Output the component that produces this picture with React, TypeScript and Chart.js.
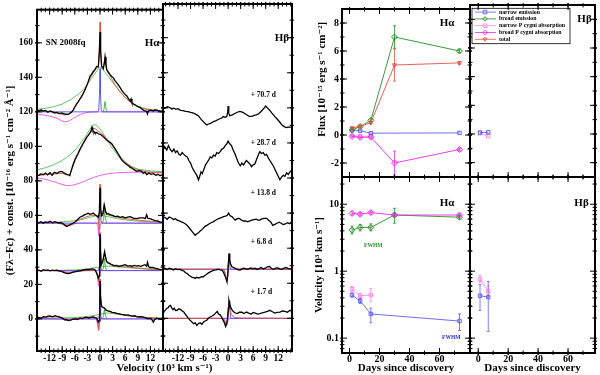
import React, { useEffect, useRef } from 'react';
import { Chart, registerables } from 'chart.js';
Chart.register(...registerables);

type P = [number, number];
const FONT = "'Liberation Serif', 'DejaVu Serif', serif";
Chart.defaults.font.family = FONT;
Chart.defaults.color = '#000';

// ---------------- tick labels ----------------
const specVelTicks = [-12, -9, -6, -3, 0, 3, 6, 9, 12];
const specFluxTicks = [0, 20, 40, 60, 80, 100, 120, 140, 160];
const dayTicks = [0, 20, 40, 60];
const fluxTicks = [-2, 0, 2, 4, 6, 8];
const velLogTicks = [0.1, 1, 10];
const epochLabels = ['+ 70.7 d', '+ 28.7 d', '+ 13.8 d', '+ 6.8 d', '+ 1.7 d'];

// ---------------- H-alpha spectra (velocity 10^3 km/s, flux + const) ----------------
const haObs70: P[] = [[-15.1,121],[-14.5,120.5],[-14,121.2],[-13.5,120.3],[-13,120.8],[-12.4,119.8],[-11.9,120.5],[-11.3,120],[-10.8,119.3],[-10.3,119.7],[-9.7,119],[-9.2,119.4],[-8.8,119.1],[-8.2,118.6],[-7.6,118.5],[-7.2,119.1],[-6.8,119.8],[-6.4,121],[-6,122.8],[-5.6,124.5],[-5.2,125.8],[-4.8,127.3],[-4.4,128.8],[-4,130.5],[-3.6,132.5],[-3.2,134.9],[-2.8,137.5],[-2.4,140.6],[-2,141.8],[-1.6,143.4],[-1.2,144.5],[-0.8,146.3],[-0.4,146],[-0.15,155],[0,166.3],[0.15,155],[0.4,146.3],[0.8,145],[1,148],[1.2,152],[1.4,148],[1.6,144.4],[2,143],[2.4,141.6],[2.8,140.5],[3.2,139.7],[3.6,138],[4,136.8],[4.4,135.5],[4.8,134],[5.2,132.5],[5.6,131.1],[6,130],[6.4,129.2],[6.8,127.5],[7.2,126.3],[7.4,127.5],[7.6,125.5],[8,124.5],[8.4,124],[8.7,123.5],[9.1,123],[9.5,122.6],[9.9,121.8],[10.3,121],[10.7,120.5],[11.1,120.3],[11.3,118.8],[11.5,120.5],[11.9,121],[12.3,120.8],[12.7,120.5],[13.1,121.2],[13.5,121],[14.1,120.6],[14.7,120.3],[15.1,120.5]];
const haTot70: P[] = [[-15,121],[-13,120.6],[-11,119.8],[-9.5,118.8],[-8.5,118.2],[-7.5,118.6],[-6.5,120.5],[-5.5,124.5],[-4.5,128.8],[-3.5,133.5],[-2.5,139],[-1.5,143],[-0.8,145.5],[-0.35,147],[-0.12,158],[0,172],[0.12,158],[0.35,146.5],[0.8,146],[1,148],[1.2,151],[1.4,147],[1.8,143],[2.5,140.5],[3.5,136],[4.5,132.5],[5.5,129.5],[6.5,127],[7.5,125],[8.5,123.5],[10,122],[12,121],[15,120.5]];
const haBroad70: P[] = [[-15,121.5],[-13,122],[-11,123],[-9,124.5],[-7,127],[-5,130.5],[-4,132.8],[-3,136],[-2,139.5],[-1,143],[-0.3,145.5],[0.3,145.5],[1,143.5],[2,140.5],[3,137],[4,134],[5,131],[6,128.5],[7,126.3],[8,124.5],[9,123.2],[11,121.8],[13,121],[15,120.6]];
const haNarrow70: P[] = [[-15,120],[-0.6,120],[-0.3,121],[-0.12,130],[0,145],[0.12,130],[0.3,121],[0.6,120],[15,120]];
const haNarrowB70: P[] = [[0.7,120],[0.95,121.5],[1.2,126],[1.45,121.5],[1.7,120]];
const haAbs70: P[] = [[-15,118.7],[-13.5,118.2],[-12,117.5],[-10.5,116.5],[-9.5,115.3],[-8.5,114.2],[-7.5,114.6],[-6.5,116],[-5.5,117.5],[-4.5,118.7],[-3.5,119.5],[-2,119.9],[0,120],[15,120]];

const haObs28: P[] = [[-15.1,82.7],[-14.6,83.2],[-14.1,84],[-13.5,83.6],[-13,84.5],[-12.5,83.5],[-11.9,84.8],[-11.4,83.2],[-10.9,85],[-10.3,84.3],[-9.7,85.2],[-9.1,85.5],[-8.5,84.5],[-7.9,83.6],[-7.5,83.5],[-7.2,83],[-6.8,86.4],[-6.4,89.5],[-6,92.1],[-5.6,94.3],[-5.2,96],[-4.8,98.2],[-4.4,100.1],[-4,101.8],[-3.6,103.5],[-3.2,105.2],[-2.8,106.4],[-2.4,107.8],[-2.2,108.3],[-1.9,111],[-1.7,109],[-1.4,108.5],[-1.2,107.7],[-0.8,108],[-0.4,107.3],[0,107],[0.4,106.4],[0.8,105.5],[1.2,104.6],[1.6,103.5],[2,103],[2.4,102.3],[2.8,101.6],[3.2,100],[3.6,98.5],[4,96.9],[4.4,95.3],[4.8,93.6],[5.2,92.1],[5.6,91],[6,90.2],[6.4,89.3],[6.8,88.8],[7.2,87.8],[7.6,87.4],[8.1,86.5],[8.7,85.5],[9.3,86],[9.9,85.5],[10.3,84.3],[10.7,85],[11.1,83.6],[11.6,84.5],[12.2,83.8],[12.7,84.2],[13.3,83.2],[13.8,83.8],[14.3,83],[14.7,83.5],[15.1,83.6]];
const haTot28: P[] = [[-15,83],[-13,83.6],[-11,84],[-9,84.3],[-8,83.8],[-7.3,83.5],[-6.8,86],[-6,91.5],[-5,96.5],[-4,101.3],[-3,105.5],[-2,109.3],[-1.5,110.5],[-1,110],[0,108],[1,106],[2,103.3],[3,100.3],[4,97],[5,93.5],[6,91],[7,89],[8,87.5],[9,86.3],[11,85.3],[13,84.8],[15,84.6]];
const haBroad28: P[] = [[-15,86.4],[-13,87.6],[-11,89.3],[-9,91.8],[-7,95.3],[-5.5,99],[-4.4,102.6],[-3.5,105.5],[-2.8,108.3],[-2,111.5],[-1.5,112.5],[-1,112.5],[-0.3,111],[0.5,108.5],[1.6,104],[2.5,100.5],[4,95.5],[5,92.5],[6.4,89.8],[8,87.8],[9.5,86.6],[12,85.8],[15,85.3]];
const haAbs28: P[] = [[-15,81.7],[-13,80.9],[-11,79.5],[-9.5,78.3],[-8,77.3],[-7,77.3],[-6,77.8],[-4.5,79],[-3,80.6],[-1.5,82],[0,83.2],[2,84.2],[4,84.7],[7,85],[15,85]];

const haObs13: P[] = [[-15.1,56],[-14.6,55.6],[-14.1,56.3],[-13.5,55.5],[-13,56.2],[-12.4,55.8],[-11.9,56.6],[-11.3,55.7],[-10.8,56.4],[-10.3,56],[-9.7,55.6],[-9.2,55.8],[-8.8,55.1],[-8.3,54.2],[-7.9,53.6],[-7.5,54],[-7.2,54.5],[-6.6,55.2],[-6,56],[-5.4,57.5],[-4.8,58.9],[-4.2,59.6],[-3.6,60.4],[-3.2,60.8],[-2.8,61.2],[-2.4,60.6],[-2,60.8],[-1.6,61.3],[-1.2,60.4],[-0.8,59.8],[-0.4,58.9],[-0.15,62],[0,76],[0.15,64],[0.4,59.8],[0.7,61],[1,66.1],[1.3,62.5],[1.6,60.8],[2,61],[2.4,60.4],[3,60],[3.6,59.3],[4.2,59.5],[4.8,58.9],[5.4,59.2],[6,58.6],[6.6,59],[7.2,59.3],[7.9,58.4],[8.7,58.1],[9.5,58.6],[10.3,58.6],[10.8,58.2],[11.1,60.4],[11.4,58.3],[11.9,58.1],[12.5,57.6],[13.1,57],[13.7,56.8],[14.2,56.3],[14.7,56],[15.1,55.8]];
const haTot13: P[] = [[-15,56],[-12,56],[-10,55.8],[-9,55.2],[-8.3,54.5],[-7.5,54.6],[-6.5,55.5],[-5,57.3],[-3.5,59],[-2,60],[-1,60],[-0.5,58.5],[-0.2,52],[-0.05,65],[0,78],[0.08,66],[0.25,61],[0.6,60.5],[0.85,63],[1.05,66.5],[1.3,62],[1.8,60.3],[3,59.5],[5,58.5],[7,57.8],[10,57],[12.5,56.5],[15,56]];
const haBroad13: P[] = [[-15,55.7],[-11,56],[-8,56.4],[-6,56.9],[-4,57.8],[-2.5,58.8],[-1.2,59.6],[0,60],[1.2,59.6],[2.5,58.9],[4,58.1],[6,57.4],[9,56.7],[12,56.2],[15,55.9]];
const haNarrow13: P[] = [[-15,55.5],[-0.5,55.5],[-0.25,57],[-0.1,64],[0,74],[0.1,64],[0.25,57],[0.5,55.5],[15,55.5]];
const haNarrowB13: P[] = [[0.6,55.5],[0.85,58],[1.05,63],[1.3,58],[1.6,55.5]];
const haAbs13: P[] = [[-15,55.5],[-10,55.5],[-9,54.8],[-8,54],[-7,54.3],[-6,55.2],[-5,55.5],[-0.8,55.5],[-0.45,53],[-0.25,48],[-0.1,52],[0.1,55.5],[15,55.5]];

const haObs6: P[] = [[-15.1,27.9],[-14.5,28.2],[-14,27.6],[-13.5,28.5],[-12.9,28.1],[-12.4,28.4],[-11.9,27.9],[-11.3,28.3],[-10.8,28],[-10.3,28.3],[-9.7,27.8],[-9.2,27.5],[-8.8,27.1],[-8.2,26.5],[-7.6,26.2],[-7,26.6],[-6.4,27.1],[-5.8,27.4],[-5.2,27.7],[-4.8,27.9],[-4.2,28.2],[-3.6,28.5],[-3.2,28.7],[-2.6,28.6],[-2,29],[-1.6,28.8],[-1.2,28.5],[-0.8,26.6],[-0.4,23.7],[-0.2,25],[-0.05,40],[0,49],[0.1,40],[0.3,31.4],[0.6,33],[0.8,35.1],[1.1,39],[1.4,35],[1.6,33.2],[2,32.5],[2.4,32],[2.8,31.4],[3.4,30.8],[4,31],[4.4,30.4],[5,30.8],[5.6,31.2],[6,31.4],[6.6,30.6],[7.2,30.9],[7.6,30.4],[8.2,31],[8.7,30.6],[9.1,30.9],[9.7,30.5],[10.3,31],[10.7,31.4],[11.1,30.5],[11.3,32.8],[11.6,30.2],[11.9,29.8],[12.5,29.9],[13.1,29.4],[13.6,29.1],[14.2,28.7],[14.7,28.5],[15.1,28.4]];
const haTot6: P[] = [[-15,28],[-11,28],[-9.5,27.6],[-8,27.1],[-7,27],[-6,27.3],[-4.5,27.8],[-2.5,28.2],[-1.2,28],[-0.7,26],[-0.35,21.5],[-0.15,26],[-0.05,42],[0,50],[0.08,42],[0.25,32],[0.5,32.5],[0.8,35],[1.05,38],[1.3,35],[1.7,32.5],[2.5,31.5],[4,30.8],[6,30.2],[8,29.7],[11,29.1],[15,28.4]];
const haBroad6: P[] = [[-15,28],[-10,28.1],[-6,28.4],[-3,29],[-1,29.8],[0.5,30.3],[2,30.6],[4,30.3],[6,29.8],[9,29.2],[12,28.7],[15,28.4]];
const haNarrow6: P[] = [[-15,28],[-0.4,28],[-0.2,30],[-0.08,38],[0,47],[0.08,38],[0.2,30],[0.4,28],[15,28]];
const haNarrowB6: P[] = [[0.6,28],[0.85,30],[1.05,35],[1.3,30],[1.6,28]];
const haAbs6: P[] = [[-15,28],[-10,28],[-9,27.5],[-8,27],[-7,27.1],[-6,27.6],[-5,28],[-0.9,28],[-0.6,25],[-0.35,19],[-0.15,23],[0.05,28],[15,28]];

const haObs1: P[] = [[-15.1,0.5],[-14.6,0.9],[-14,0.4],[-13.5,1.3],[-12.9,1],[-12.4,1.6],[-11.9,1.7],[-11.3,1.2],[-10.7,1.9],[-10.1,1.4],[-9.5,1],[-8.9,0.3],[-8.3,-0.6],[-7.9,-0.4],[-7.6,-1],[-7,-0.7],[-6.4,-0.2],[-5.8,0],[-5.3,-0.3],[-4.8,0.6],[-4.2,0.2],[-3.7,0.8],[-3.2,1],[-2.6,0.5],[-2.1,1],[-1.6,1.1],[-1.2,0.8],[-0.8,0.6],[-0.4,-1.9],[-0.2,-1],[-0.05,12],[0,22],[0.1,14],[0.3,8.5],[0.5,7],[0.8,6.6],[1.1,6.2],[1.4,5.1],[1.9,4.6],[2.4,4.3],[2.9,3.8],[3.5,3.6],[4,3.2],[4.6,2.9],[5.1,2.6],[5.6,2.5],[6.2,2.2],[6.7,2.3],[7.2,1.9],[7.8,1.6],[8.3,1.8],[8.7,1.3],[9.3,1.1],[9.8,1.3],[10.3,1],[10.9,0.6],[11.5,0],[12,0.4],[12.4,-0.6],[12.7,-1.9],[13,-0.5],[13.5,0.4],[13.9,0.2],[14.4,-0.3],[14.7,-0.2],[15.1,0.2]];
const haTot1: P[] = [[-15,0.5],[-12,1.2],[-10,1.2],[-9,0.6],[-8,-0.3],[-7,-0.5],[-6,0],[-4,0.5],[-2,0.8],[-1,0.6],[-0.6,-1],[-0.3,-6],[-0.12,-2],[-0.04,14],[0,23],[0.07,15],[0.25,8.5],[0.5,6.5],[0.8,6.3],[1.05,6.6],[1.3,5.6],[1.8,4.8],[2.5,4],[4,3],[6,2.1],[8,1.5],[10,1],[12,0.6],[15,0.3]];
const haBroad1: P[] = [[-15,0.3],[-10,0.5],[-6,0.8],[-3,1.3],[-1,2.2],[0.5,3],[1.5,3.4],[2.5,3.3],[4,2.8],[6,2.1],[8,1.5],[10,1],[12,0.7],[15,0.4]];
const haNarrow1: P[] = [[-15,0],[-0.4,0],[-0.2,2],[-0.08,10],[0,20],[0.08,10],[0.2,2],[0.4,0],[15,0]];
const haNarrowB1: P[] = [[0.6,0],[0.85,2],[1.05,5.5],[1.3,2],[1.6,0]];
const haAbs1: P[] = [[-15,0],[-9,-0.2],[-8,-0.7],[-7,-0.6],[-6,0],[-0.9,0],[-0.6,-3],[-0.35,-7],[-0.15,-3],[0.05,0],[15,0]];

// ---------------- H-beta spectra ----------------
const hbObs70: P[] = [[-15.5,119.5],[-15,120],[-14.5,120.6],[-14,120.2],[-13.5,119.4],[-13,119.8],[-12.5,119.2],[-12,119.5],[-11.4,118.6],[-10.8,118.4],[-10.2,118],[-9.6,117.8],[-9,117.4],[-8.3,117],[-7.7,116.3],[-7.1,115.4],[-6.5,113.6],[-5.9,112],[-5.4,110.8],[-5.1,110.3],[-4.7,110.8],[-4.2,111.2],[-3.5,112.2],[-3,112.6],[-2.5,113.2],[-2,113.8],[-1.5,114.2],[-1.2,115],[-0.7,114.6],[-0.3,115.2],[-0.1,117.5],[0,121],[0.15,117],[0.4,115.5],[1,116],[1.6,116.8],[2.2,117.5],[2.8,118],[3.4,117.6],[4,116.8],[4.6,115.8],[5.2,115],[5.8,115.3],[6.4,115.8],[6.8,116],[7.4,116.8],[8,118.2],[8.6,119.8],[9,121],[9.4,120],[9.9,118.8],[10.5,117],[11.2,115],[11.8,113.5],[12.4,111.8],[12.9,110.2],[13.4,109.3],[14,108.8],[14.6,109],[15.3,109]];
const hbObs28: P[] = [[-15.5,96.5],[-15.1,97.5],[-14.7,96],[-14.3,98.5],[-13.8,96],[-13.4,95],[-13,96.5],[-12.6,94.5],[-12.2,95.5],[-11.8,93.5],[-11.4,93],[-11,94.5],[-10.6,93.5],[-10.2,92.5],[-9.8,92],[-9.4,90],[-9,88.5],[-8.6,86],[-8.3,84.6],[-7.9,83],[-7.5,81.5],[-7.1,79],[-6.8,81],[-6.5,83.5],[-6.2,82.5],[-5.8,85],[-5.4,87.5],[-5,89],[-4.6,90.5],[-4.3,92],[-3.9,91.5],[-3.5,93],[-3.1,92.5],[-2.7,94.5],[-2.3,94],[-1.9,95],[-1.5,96.5],[-1.1,97],[-0.7,98.5],[-0.3,99.5],[0,101],[0.4,99.5],[0.8,98.5],[1.2,96],[1.6,94],[2,91.5],[2.4,89],[2.9,87],[3.3,88.5],[3.7,87.5],[4.1,89],[4.4,90],[4.8,89],[5.2,88],[5.6,86.5],[6,87.5],[6.4,88],[6.8,90.5],[7.2,93],[7.6,95],[8,94],[8.4,94.5],[8.8,93],[9.2,93.5],[9.6,91.5],[10,90],[10.4,88.5],[10.8,87],[11.2,85],[11.6,83],[12,81],[12.4,79],[12.8,80.5],[13.2,81.5],[13.6,81],[14,83],[14.4,82],[14.8,83.5],[15.3,84.6]];
const hbObs13: P[] = [[-15.6,58],[-15.1,57.5],[-14.6,56.5],[-14.1,57.8],[-13.6,57.2],[-13.1,56.4],[-12.6,56.8],[-12.2,56],[-11.7,55.6],[-11.2,55],[-10.7,54.5],[-10.2,53.8],[-9.8,53],[-9.3,51.5],[-8.8,50],[-8.3,48.5],[-7.9,47.4],[-7.5,48.2],[-7.1,48.8],[-6.6,50],[-6.1,51],[-5.6,52.3],[-5.1,53],[-4.6,53.8],[-4.1,54.5],[-3.6,55],[-3.1,55.8],[-2.6,56.5],[-2.1,57],[-1.6,57.4],[-1.1,58],[-0.6,58.3],[-0.2,58.8],[0.1,60],[0.5,58.5],[0.9,58],[1.3,57],[1.7,56],[2.2,56.8],[2.7,57],[3.2,56],[3.7,55.5],[4.2,55.5],[4.7,55],[5.2,55.6],[5.7,56],[6.2,56.3],[6.7,56.6],[7.2,56],[7.6,56],[8.1,56.7],[8.6,57],[9.2,57],[9.7,56],[10.2,55],[10.7,53],[11.2,53.6],[11.7,54.2],[12.2,54.8],[12.7,54.2],[13.2,53.5],[13.7,53.8],[14.2,54.5],[14.7,54],[15.3,55]];
const hbObs6: P[] = [[-15.6,28],[-15.1,28.4],[-14.6,27.8],[-14.1,28.6],[-13.6,28.2],[-13.1,27.6],[-12.6,28.3],[-12.1,27.8],[-11.6,28.1],[-11.1,27.4],[-10.6,27],[-10.2,26],[-9.8,25.5],[-9.4,24.6],[-9,24],[-8.6,23.4],[-8.2,23.2],[-7.9,22.8],[-7.5,23.4],[-7.1,23],[-6.7,23.4],[-6.3,23.8],[-6,23.6],[-5.6,24.4],[-5.2,25],[-4.8,25.8],[-4.3,26.5],[-3.9,26.9],[-3.4,27.5],[-2.9,27.7],[-2.4,28],[-1.9,27.6],[-1.5,27.5],[-1.1,26.2],[-0.8,24.5],[-0.5,22.5],[-0.3,21],[-0.1,24],[0.1,33],[0.25,37],[0.4,33],[0.6,31],[0.9,29.4],[1.3,29],[1.8,28.4],[2.4,27.6],[2.9,27.5],[3.4,28.3],[3.9,28.6],[4.4,27.9],[4.9,28.2],[5.4,28.8],[5.9,28.3],[6.4,28.6],[6.9,27.9],[7.4,28.4],[7.9,29],[8.4,28.2],[8.9,28.6],[9.4,29.4],[9.9,29.6],[10.4,28.4],[10.9,28],[11.4,28.6],[11.9,28.7],[12.4,28.2],[12.9,28],[13.4,28.6],[13.9,29],[14.4,28.4],[14.9,28.2],[15.3,28]];
const hbTot6: P[] = [[-15.6,28],[-2,28],[-1,27.5],[-0.6,25],[-0.3,21],[-0.1,24],[0.1,31],[0.25,35.5],[0.45,32],[0.8,29.5],[1.5,28.5],[3,28.1],[15.3,28]];
const hbNarrow6: P[] = [[-15.6,28],[-0.1,28],[0.05,31],[0.2,37],[0.35,31],[0.55,28],[15.3,28]];
const hbAbs6: P[] = [[-15.6,28],[-1,28],[-0.6,25],[-0.3,21],[-0.1,25],[0.1,28],[15.3,28]];
const hbObs1: P[] = [[-15.6,2.5],[-15.3,4],[-15,4.7],[-14.7,5.8],[-14.4,6],[-14.1,7],[-13.8,7.4],[-13.5,6],[-13.2,5],[-12.9,5.8],[-12.6,4.5],[-12.2,4.6],[-11.8,5.5],[-11.4,5],[-11,4.2],[-10.6,3.6],[-10.2,2.2],[-9.8,1],[-9.5,0],[-9.1,-1.1],[-8.7,-2],[-8.3,-3],[-7.9,-2.5],[-7.5,-4],[-7.1,-3],[-6.7,-2.5],[-6.3,-3.4],[-5.9,-2.1],[-5.5,-1.5],[-5.1,-1],[-4.7,0.2],[-4.3,0.8],[-3.9,1.2],[-3.4,2],[-3,3],[-2.6,4],[-2.3,2.5],[-1.9,2],[-1.5,0.5],[-1.2,-1],[-0.9,-2.5],[-0.6,-4.6],[-0.35,-3],[-0.15,0],[0.05,6],[0.2,10.3],[0.4,8],[0.6,6.5],[0.9,5],[1.2,4],[1.6,3.2],[2.2,2.7],[2.7,3.5],[3.3,3.5],[3.8,2.8],[4.4,3.6],[4.9,3],[5.5,2.5],[6,3.4],[6.5,3],[7.1,2.4],[7.6,2.7],[8.2,3.2],[8.8,3.5],[9.4,4],[10,4.6],[10.6,3.8],[11.2,3],[11.8,3.4],[12.4,3.6],[13,4.2],[13.6,4],[14.2,3.5],[14.8,4.6],[15.3,4]];
const hbTot1: P[] = [[-15.6,0],[-1.2,0],[-0.7,-2],[-0.35,-4],[-0.1,-1],[0.1,6],[0.25,9.5],[0.45,5],[0.8,2],[1.5,0.6],[3,0.2],[15.3,0]];
const hbNarrow1: P[] = [[-15.6,0],[-0.05,0],[0.1,5],[0.25,10],[0.4,5],[0.6,0],[15.3,0]];
const hbAbs1: P[] = [[-15.6,0],[-1,0],[-0.6,-2],[-0.35,-4],[-0.1,-2],[0.1,0],[15.3,0]];

// ---------------- line measurements ----------------
const seriesNames = ['narrow emission', 'broad emission', 'narrow P cygni absorption', 'broad P cygni absorption', 'total'];
const seriesColors = ['rgb(95,95,235)', 'rgb(40,140,40)', 'rgb(255,135,230)', 'rgb(235,40,235)', 'rgb(225,80,70)'];
const seriesMarkers = ['rect', 'rectRot', 'rect', 'rectRot', 'triangle'];

const daysHa = [1.7, 7.1, 14.2, 30.0, 73.3];
const daysHb = [1.2, 6.7];

const narrowEmFlux = [0.35, 0.3, 0.13, null, 0.15];
const broadEmFlux = [0.35, 0.6, 1.05, 7.0, 6.0];
const broadEmFluxLo = [0.3, 0.55, 0.95, 6.2, 5.9];
const broadEmFluxHi = [0.4, 0.65, 1.15, 7.8, 6.1];
const narrowPcFlux = [-0.05, -0.1, -0.08, null, null];
const broadPcFlux = [-0.1, -0.17, -0.15, -2.0, -1.03];
const broadPcFluxLo = [-0.15, -0.22, -0.22, -2.85, -1.12];
const broadPcFluxHi = [-0.05, -0.12, -0.08, -1.15, -0.94];
const totalFlux = [0.5, 0.62, 0.88, 5.0, 5.15];
const totalFluxLo = [0.45, 0.57, 0.8, 3.85, 5.05];
const totalFluxHi = [0.55, 0.67, 0.96, 6.15, 5.25];
const narrowEmFluxHb = [0.1, 0.12];
const narrowPcFluxHb = [0.05, -0.15];

const broadPcVel = [7.3, 7.1, 7.5, 6.9, 6.9];
const broadPcVelLo = [6.9, 6.7, 7.1, 6.6, 6.6];
const broadPcVelHi = [7.7, 7.5, 7.9, 7.2, 7.2];
const broadEmVel = [4.1, 4.5, 4.5, 6.9, 6.4];
const broadEmVelLo = [3.6, 4.0, 4.0, 5.2, 6.0];
const broadEmVelHi = [4.7, 5.0, 5.1, 8.7, 6.8];
const narrowPcVel = [0.54, 0.43, 0.44, null, null];
const narrowPcVelLo = [0.49, 0.39, 0.35, null, null];
const narrowPcVelHi = [0.59, 0.47, 0.55, null, null];
const narrowEmVel = [0.44, 0.36, 0.23, null, 0.18];
const narrowEmVelLo = [0.41, 0.33, 0.17, null, 0.13];
const narrowEmVelHi = [0.47, 0.39, 0.28, null, 0.23];
const narrowPcVelHb = [0.76, 0.5];
const narrowPcVelHbLo = [0.68, 0.42];
const narrowPcVelHbHi = [0.86, 0.6];
const narrowEmVelHb = [0.43, 0.41];
const narrowEmVelHbLo = [0.26, 0.126];
const narrowEmVelHbHi = [0.63, 0.7];

// ---------------- styling ----------------
const C_OBS = '#000';
const C_TOT = 'rgb(215,85,50)';
const C_BROAD = 'rgb(40,165,40)';
const C_NARROW = 'rgb(80,80,235)';
const C_ABS = 'rgb(235,80,235)';

const toXY = (pts: P[]) => pts.map(([x, y]) => ({ x, y }));
const lineDs = (pts: P[], color: string, width: number) => ({
  data: toXY(pts), showLine: true, borderColor: color, borderWidth: width, pointRadius: 0, fill: false, tension: 0,
});

function pointsOf(xs: number[], ys: (number | null)[], lo?: (number | null)[], hi?: (number | null)[]) {
  const out: any[] = [];
  xs.forEach((x, i) => {
    const y = ys[i];
    if (y == null) return;
    out.push({ x, y, lo: lo ? lo[i] : null, hi: hi ? hi[i] : null });
  });
  return out;
}
function measDs(k: number, xs: number[], ys: (number | null)[], lo?: any[], hi?: any[]) {
  return {
    data: pointsOf(xs, ys, lo, hi), showLine: true, borderColor: seriesColors[k], borderWidth: 0.9,
    pointStyle: seriesMarkers[k], pointRotation: k === 4 ? 180 : 0, pointRadius: k === 1 || k === 3 ? 3 : 2.4,
    pointBorderColor: seriesColors[k], pointBackgroundColor: 'rgba(0,0,0,0)', pointBorderWidth: 1, tension: 0,
  };
}

interface Ann { text: string; x: number; y: number; align: CanvasTextAlign; size: number; color?: string; }

function axis(o: any) {
  return {
    type: o.log ? 'logarithmic' : 'linear',
    position: o.pos,
    min: o.min, max: o.max,
    grid: { display: false, drawTicks: false, tickLength: 0 }, border: { display: false },
    afterBuildTicks: (s: any) => { s.ticks = o.ticks.map((v: number) => ({ value: v })); },
    afterFit: (s: any) => { if (o.pos === 'bottom') s.height = o.fit; else s.width = o.fit; },
    ticks: {
      display: o.show, autoSkip: false, maxRotation: 0, minRotation: 0, padding: o.pad,
      font: { size: o.size, weight: 'bold' }, color: '#000', callback: (v: any) => String(v),
    },
    title: o.title ? { display: true, text: o.title, font: { size: 11, weight: 'bold' }, color: '#000', padding: o.titlePad } : { display: false },
  };
}

function seg(ctx: any, x1: number, y1: number, x2: number, y2: number) {
  ctx.beginPath(); ctx.moveTo(x1, y1); ctx.lineTo(x2, y2); ctx.stroke();
}

function drawMarker(ctx: any, style: string, x: number, y: number, r: number, color: string) {
  ctx.save();
  ctx.strokeStyle = color; ctx.lineWidth = 0.9;
  ctx.beginPath();
  if (style === 'rect') ctx.rect(x - r, y - r, 2 * r, 2 * r);
  else if (style === 'rectRot') { ctx.moveTo(x, y - r * 1.3); ctx.lineTo(x + r * 1.3, y); ctx.lineTo(x, y + r * 1.3); ctx.lineTo(x - r * 1.3, y); ctx.closePath(); }
  else { ctx.moveTo(x - r, y - r * 0.7); ctx.lineTo(x + r, y - r * 0.7); ctx.lineTo(x, y + r * 1.1); ctx.closePath(); }
  ctx.stroke();
  ctx.restore();
}

function drawErrorBars(chart: any) {
  const { ctx } = chart;
  const ys = chart.scales.y;
  chart.data.datasets.forEach((ds: any, i: number) => {
    const meta = chart.getDatasetMeta(i);
    ds.data.forEach((d: any, j: number) => {
      if (d.lo == null || d.hi == null) return;
      const el = meta.data[j];
      if (!el) return;
      const y1 = ys.getPixelForValue(d.lo), y2 = ys.getPixelForValue(d.hi);
      ctx.save();
      ctx.strokeStyle = ds.borderColor; ctx.lineWidth = 0.8;
      seg(ctx, el.x, y1, el.x, y2);
      seg(ctx, el.x - 1.5, y1, el.x + 1.5, y1);
      seg(ctx, el.x - 1.5, y2, el.x + 1.5, y2);
      ctx.restore();
    });
  });
}

function drawLegend(chart: any) {
  const { ctx, chartArea: a } = chart;
  const x0 = a.left + 2, y0 = a.top + 3.3, rowH = 6.8;
  ctx.save();
  ctx.strokeStyle = '#000'; ctx.lineWidth = 0.8;
  ctx.strokeRect(x0, y0, 98, 35.4);
  seriesNames.forEach((name, i) => {
    const y = y0 + 3.8 + i * rowH;
    ctx.strokeStyle = seriesColors[i]; ctx.lineWidth = 0.8;
    seg(ctx, x0 + 3, y, x0 + 24, y);
    drawMarker(ctx, seriesMarkers[i], x0 + 13, y, 1.8, seriesColors[i]);
    ctx.fillStyle = '#000';
    ctx.font = `bold 5.8px ${FONT}`;
    ctx.textAlign = 'left'; ctx.textBaseline = 'middle';
    ctx.fillText(name, x0 + 27, y);
  });
  ctx.restore();
}

function deco(cfg: { xMinor: number; yMinor?: number; yLog?: boolean; anns?: Ann[]; after?: (c: any) => void }) {
  return {
    id: 'deco',
    beforeDatasetsDraw(chart: any) { drawErrorBars(chart); },
    afterDraw(chart: any) {
      const { ctx, chartArea: a, scales } = chart;
      const xs = scales.x, ys = scales.y;
      ctx.save();
      ctx.strokeStyle = '#000'; ctx.lineWidth = 1;
      const MAJ = 5, MIN = 2.5, OUT = 2;
      const xTick = (v: number, len: number) => {
        const p = xs.getPixelForValue(v);
        if (p < a.left + 1 || p > a.right - 1) return;
        seg(ctx, p, a.bottom + OUT, p, a.bottom - len);
        seg(ctx, p, a.top - OUT, p, a.top + len);
      };
      const yTick = (v: number, len: number) => {
        const p = ys.getPixelForValue(v);
        if (p < a.top + 1 || p > a.bottom - 1) return;
        seg(ctx, a.left - OUT, p, a.left + len, p);
        seg(ctx, a.right + OUT, p, a.right - len, p);
      };
      xs.ticks.forEach((t: any) => xTick(t.value, MAJ));
      for (let i = Math.ceil(xs.min / cfg.xMinor); i * cfg.xMinor <= xs.max; i++) xTick(i * cfg.xMinor, MIN);
      ys.ticks.forEach((t: any) => yTick(t.value, MAJ));
      if (cfg.yLog) {
        for (let d = Math.floor(Math.log10(ys.min)); d <= Math.ceil(Math.log10(ys.max)); d++)
          for (let k = 2; k <= 9; k++) yTick(k * Math.pow(10, d), MIN);
      } else if (cfg.yMinor) {
        for (let i = Math.ceil(ys.min / cfg.yMinor); i * cfg.yMinor <= ys.max; i++) yTick(i * cfg.yMinor, MIN);
      }
      ctx.lineWidth = 2;
      ctx.strokeRect(a.left, a.top, a.right - a.left, a.bottom - a.top);
      (cfg.anns || []).forEach((an) => {
        ctx.font = `bold ${an.size}px ${FONT}`;
        ctx.fillStyle = an.color || '#000';
        ctx.textAlign = an.align; ctx.textBaseline = 'middle';
        ctx.fillText(an.text, xs.getPixelForValue(an.x), ys.getPixelForValue(an.y));
      });
      if (cfg.after) cfg.after(chart);
      ctx.restore();
    },
  };
}

function baseOptions(padding: any, scales: any) {
  return {
    animation: false, responsive: false, devicePixelRatio: 1, events: [],
    layout: { padding },
    plugins: { legend: { display: false }, tooltip: { enabled: false }, title: { display: false } },
    scales,
  };
}

const SPEC_YMIN = -18.6, SPEC_YMAX = 179.2;

function specHaConfig() {
  const datasets = [
    lineDs(haObs70, C_OBS, 1.3), lineDs(haObs28, C_OBS, 1.3), lineDs(haObs13, C_OBS, 1.3), lineDs(haObs6, C_OBS, 1.3), lineDs(haObs1, C_OBS, 1.3),
    lineDs(haTot70, C_TOT, 0.9), lineDs(haTot28, C_TOT, 0.9), lineDs(haTot13, C_TOT, 0.9), lineDs(haTot6, C_TOT, 0.9), lineDs(haTot1, C_TOT, 0.9),
    lineDs(haNarrow70, C_NARROW, 0.9), lineDs(haNarrow13, C_NARROW, 0.9), lineDs(haNarrow6, C_NARROW, 0.9), lineDs(haNarrow1, C_NARROW, 0.9),
    lineDs(haNarrowB70, C_BROAD, 0.8), lineDs(haNarrowB13, C_BROAD, 0.8), lineDs(haNarrowB6, C_BROAD, 0.8), lineDs(haNarrowB1, C_BROAD, 0.8),
    lineDs(haBroad70, C_BROAD, 0.7), lineDs(haBroad28, C_BROAD, 0.7), lineDs(haBroad13, C_BROAD, 0.7), lineDs(haBroad6, C_BROAD, 0.7), lineDs(haBroad1, C_BROAD, 0.7),
    lineDs(haAbs70, C_ABS, 0.9), lineDs(haAbs28, C_ABS, 0.9), lineDs(haAbs13, C_ABS, 0.9), lineDs(haAbs6, C_ABS, 0.9), lineDs(haAbs1, C_ABS, 0.9),
  ];
  const anns: Ann[] = [
    { text: 'SN 2008fq', x: -12.9, y: 160, align: 'left', size: 9 },
    { text: 'Hα', x: 12.4, y: 160, align: 'center', size: 11 },
  ];
  return {
    type: 'scatter',
    data: { datasets },
    options: baseOptions({ left: 0, top: 4, right: 437, bottom: 0 }, {
      x: axis({ pos: 'bottom', min: -15, max: 15, ticks: specVelTicks, fit: 24, show: true, pad: 2, size: 9.5 }),
      y: axis({ pos: 'left', min: SPEC_YMIN, max: SPEC_YMAX, ticks: specFluxTicks, fit: 37, show: true, pad: 4, size: 9.5,
        title: '(Fλ−Fc) + const. [10⁻¹⁶ erg s⁻¹ cm⁻² Å⁻¹]', titlePad: { top: 3.4, bottom: 0 } }),
    }),
    plugins: [deco({
      xMinor: 1, yMinor: 10, anns,
      after: (c: any) => {
        const { ctx, chartArea: a } = c;
        ctx.font = `bold 11px ${FONT}`; ctx.fillStyle = '#000'; ctx.textAlign = 'center'; ctx.textBaseline = 'middle';
        ctx.fillText('Velocity (10³ km s⁻¹)', a.right + 1.5, a.bottom + 17);
      },
    })],
  };
}

function specHbConfig() {
  const datasets = [
    lineDs(hbObs70, C_OBS, 1.3), lineDs(hbObs28, C_OBS, 1.3), lineDs(hbObs13, C_OBS, 1.3), lineDs(hbObs6, C_OBS, 1.3), lineDs(hbObs1, C_OBS, 1.3),
    lineDs(hbTot6, C_TOT, 0.9), lineDs(hbTot1, C_TOT, 0.9),
    lineDs(hbNarrow6, C_NARROW, 0.9), lineDs(hbNarrow1, C_NARROW, 0.9),
    lineDs(hbAbs6, C_ABS, 0.9), lineDs(hbAbs1, C_ABS, 0.9),
  ];
  const epochY = [127.3, 100.1, 71.6, 43.5, 15.2];
  const anns: Ann[] = [
    { text: 'Hβ', x: 12.9, y: 160, align: 'center', size: 11 },
    ...epochLabels.map((t, i) => ({ text: t, x: 5.4, y: epochY[i], align: 'left' as CanvasTextAlign, size: 7.5 })),
  ];
  return {
    type: 'scatter',
    data: { datasets },
    options: baseOptions({ left: 163, top: 4, right: 308, bottom: 0 }, {
      x: axis({ pos: 'bottom', min: -15.6, max: 15.3, ticks: specVelTicks, fit: 24, show: true, pad: 2, size: 9.5 }),
      y: axis({ pos: 'left', min: SPEC_YMIN, max: SPEC_YMAX, ticks: specFluxTicks, fit: 0, show: false, pad: 0, size: 9.5 }),
    }),
    plugins: [deco({ xMinor: 1, yMinor: 10, anns })],
  };
}

function fluxHaConfig() {
  const datasets = [
    measDs(4, daysHa, totalFlux, totalFluxLo, totalFluxHi),
    measDs(1, daysHa, broadEmFlux, broadEmFluxLo, broadEmFluxHi),
    measDs(3, daysHa, broadPcFlux, broadPcFluxLo, broadPcFluxHi),
    measDs(0, daysHa, narrowEmFlux),
    measDs(2, daysHa, narrowPcFlux),
  ];
  return {
    type: 'scatter',
    data: { datasets },
    options: baseOptions({ left: 300, top: 4, right: 130, bottom: 198 }, {
      x: axis({ pos: 'bottom', min: -5, max: 80.3, ticks: dayTicks, fit: 0, show: false, pad: 0, size: 10 }),
      y: axis({ pos: 'left', min: -3, max: 9, ticks: fluxTicks, fit: 42, show: true, pad: 3, size: 10,
        title: '          Flux [10⁻¹⁵ erg s⁻¹ cm⁻²]', titlePad: { top: 15.4, bottom: 0 } }),
    }),
    plugins: [deco({ xMinor: 10, yMinor: 1, anns: [{ text: 'Hα', x: 65, y: 8.0, align: 'center', size: 11 }] })],
  };
}

function fluxHbConfig() {
  const datasets = [
    measDs(0, daysHb, narrowEmFluxHb),
    measDs(2, daysHb, narrowPcFluxHb),
  ];
  return {
    type: 'scatter',
    data: { datasets },
    options: baseOptions({ left: 470, top: 4, right: 4.5, bottom: 198 }, {
      x: axis({ pos: 'bottom', min: -5.5, max: 78, ticks: dayTicks, fit: 0, show: false, pad: 0, size: 10 }),
      y: axis({ pos: 'left', min: -3, max: 9, ticks: fluxTicks, fit: 0, show: false, pad: 0, size: 10 }),
    }),
    plugins: [deco({ xMinor: 10, yMinor: 1, anns: [{ text: 'Hβ', x: 71, y: 8.0, align: 'center', size: 11 }], after: drawLegend })],
  };
}

function velHaConfig() {
  const datasets = [
    measDs(3, daysHa, broadPcVel, broadPcVelLo, broadPcVelHi),
    measDs(1, daysHa, broadEmVel, broadEmVelLo, broadEmVelHi),
    measDs(2, daysHa, narrowPcVel, narrowPcVelLo, narrowPcVelHi),
    measDs(0, daysHa, narrowEmVel, narrowEmVelLo, narrowEmVelHi),
  ];
  return {
    type: 'scatter',
    data: { datasets },
    options: baseOptions({ left: 300, top: 177, right: 130, bottom: 0 }, {
      x: axis({ pos: 'bottom', min: -5, max: 80.3, ticks: dayTicks, fit: 22, show: true, pad: 0, size: 10,
        title: 'Days since discovery', titlePad: { top: 0, bottom: 0.6 } }),
      y: axis({ pos: 'left', log: true, min: 0.06, max: 25.5, ticks: velLogTicks, fit: 42, show: true, pad: 3, size: 10,
        title: 'Velocity [10³ km s⁻¹]', titlePad: { top: 12.4, bottom: 0 } }),
    }),
    plugins: [deco({
      xMinor: 10, yLog: true,
      anns: [
        { text: 'Hα', x: 65, y: 10.4, align: 'center', size: 11 },
        { text: 'FWHM', x: 15.8, y: 2.39, align: 'center', size: 5.5, color: seriesColors[1] },
        { text: 'FWHM', x: 67.8, y: 0.101, align: 'center', size: 5.5, color: 'rgb(40,40,220)' },
      ],
    })],
  };
}

function velHbConfig() {
  const datasets = [
    measDs(2, daysHb, narrowPcVelHb, narrowPcVelHbLo, narrowPcVelHbHi),
    measDs(0, daysHb, narrowEmVelHb, narrowEmVelHbLo, narrowEmVelHbHi),
  ];
  return {
    type: 'scatter',
    data: { datasets },
    options: baseOptions({ left: 470, top: 177, right: 4.5, bottom: 0 }, {
      x: axis({ pos: 'bottom', min: -5.5, max: 78, ticks: dayTicks, fit: 22, show: true, pad: 0, size: 10,
        title: 'Days since discovery', titlePad: { top: 0, bottom: 0.6 } }),
      y: axis({ pos: 'left', log: true, min: 0.06, max: 25.5, ticks: velLogTicks, fit: 0, show: false, pad: 0, size: 10 }),
    }),
    plugins: [deco({ xMinor: 10, yLog: true, anns: [{ text: 'Hβ', x: 69, y: 10.4, align: 'center', size: 11 }] })],
  };
}

export default function App() {
  const r0 = useRef<HTMLCanvasElement>(null);
  const r1 = useRef<HTMLCanvasElement>(null);
  const r2 = useRef<HTMLCanvasElement>(null);
  const r3 = useRef<HTMLCanvasElement>(null);
  const r4 = useRef<HTMLCanvasElement>(null);
  const r5 = useRef<HTMLCanvasElement>(null);
  const refs = [r0, r1, r2, r3, r4, r5];
  useEffect(() => {
    const cfgs: any[] = [specHaConfig(), specHbConfig(), fluxHaConfig(), fluxHbConfig(), velHaConfig(), velHbConfig()];
    const charts = cfgs.map((c, i) => new Chart(refs[i].current as HTMLCanvasElement, c));
    return () => charts.forEach((ch) => ch.destroy());
  }, []);
  return (
    <div style={{ position: 'fixed', left: 0, top: 0, width: 600, height: 375, background: '#fff', overflow: 'hidden' }}>
      {refs.map((r, i) => (
        <canvas key={i} ref={r} width={600} height={375} style={{ position: 'absolute', left: 0, top: 0, width: 600, height: 375 }} />
      ))}
    </div>
  );
}
